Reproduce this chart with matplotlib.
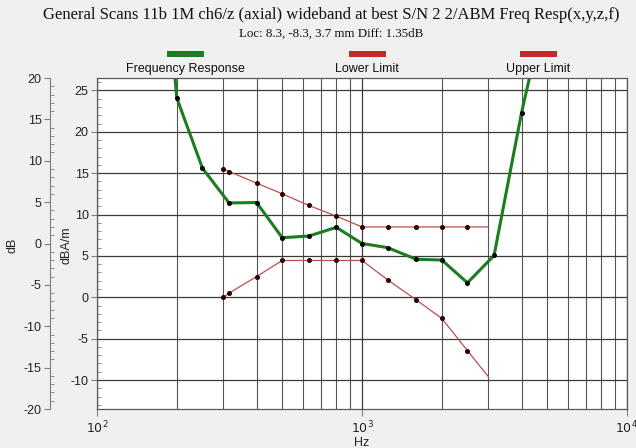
import matplotlib
matplotlib.use("Agg")
import matplotlib.pyplot as plt
from matplotlib.ticker import MultipleLocator, FixedLocator, NullFormatter

# ---- data ----
fr_hz = [160, 200, 250, 315, 400, 500, 630, 800, 1000, 1250, 1600, 2000, 2500, 3150, 4000, 5000]
fr_db = [60, 24.1, 15.6, 11.4, 11.45, 7.2, 7.4, 8.45, 6.5, 6.0, 4.6, 4.5, 1.75, 5.05, 22.3, 36]

lim_hz = [300, 315, 400, 500, 630, 800, 1000, 1250, 1600, 2000, 2500, 3000]
lower_db = [0.0, 0.5, 2.5, 4.45, 4.45, 4.45, 4.45, 2.1, -0.3, -2.55, -6.45, -9.6]
upper_db = [15.5, 15.2, 13.8, 12.5, 11.1, 9.8, 8.5, 8.5, 8.5, 8.5, 8.5, 8.5]

legend_labels = ["Frequency Response", "Lower Limit", "Upper Limit"]
title = "General Scans 11b 1M ch6/z (axial) wideband at best S/N 2 2/ABM Freq Resp(x,y,z,f)"
subtitle = "Loc: 8.3, -8.3, 3.7 mm Diff: 1.35dB"

W, H = 636, 448
plt.rcParams['font.family'] = ['Liberation Sans', 'DejaVu Sans']
plt.rcParams['axes.unicode_minus'] = False
fig = plt.figure(figsize=(W / 100, H / 100), dpi=100, facecolor="#f0f0f0")

def fx(px):
    return px / W

def fy(py):
    return 1 - py / H

left, right, top, bottom = 97, 627, 78, 409
ax = fig.add_axes([fx(left), fy(bottom), (right - left) / W, (bottom - top) / H])
ax.set_facecolor("white")
ax.set_xscale("log")
ax.set_xlim(100, 10000)
ax.set_ylim(-13.5, 26.5)

green = "#1b7d1f"
red = "#b9504f"

ax.plot(fr_hz, fr_db, color=green, lw=2.2, marker="o", ms=2.6, mfc="black", mec="black", zorder=5)
ax.plot(lim_hz, lower_db, color=red, lw=0.9, marker="o", ms=2.6, mfc="#300000", mec="#300000",
        markevery=slice(0, len(lim_hz) - 1), zorder=4)
ax.plot(lim_hz, upper_db, color=red, lw=0.9, marker="o", ms=2.6, mfc="#300000", mec="#300000",
        markevery=slice(0, len(lim_hz) - 1), zorder=4)

# grid
ax.yaxis.set_minor_locator(MultipleLocator(1))
ax.set_yticks([-10, -5, 0, 5, 10, 15, 20, 25])
ax.xaxis.set_major_locator(FixedLocator([100, 1000, 10000]))
ax.xaxis.set_minor_locator(FixedLocator([m * d for d in (100, 1000) for m in range(2, 10)]))
ax.xaxis.set_minor_formatter(NullFormatter())
ax.set_xticklabels(["$10^2$", "$10^3$", "$10^4$"])
ax.grid(True, which="major", axis="both", color="#3a3a3a", lw=0.9)
ax.grid(True, which="minor", axis="x", color="#555555", lw=0.8)
ax.set_axisbelow(True)

for s in ax.spines.values():
    s.set_color("#5a5a5a")
    s.set_linewidth(0.9)

ax.tick_params(axis="y", which="major", direction="out", length=4, color="#808080",
               labelsize=9, pad=2, labelcolor="#222222")
ax.tick_params(axis="y", which="minor", direction="in", length=3, color="#808080")
ax.tick_params(axis="x", which="major", direction="out", length=5, color="#808080",
               labelsize=9, pad=3, labelcolor="#222222")
ax.tick_params(axis="x", which="minor", length=0)
ax.set_xlabel("Hz", fontsize=9, labelpad=0, color="#222222")

# secondary dB axis on far left
ax2 = fig.add_axes([fx(50), fy(bottom), 0.0001, (bottom - top) / H])
ax2.set_ylim(-20, 20)
ax2.patch.set_visible(False)
for k in ("top", "right", "bottom"):
    ax2.spines[k].set_visible(False)
ax2.spines["left"].set_color("#808080")
ax2.xaxis.set_visible(False)
ax2.yaxis.set_major_locator(MultipleLocator(5))
ax2.yaxis.set_minor_locator(MultipleLocator(1))
ax2.tick_params(axis="y", which="major", direction="out", length=4, color="#808080",
                labelsize=9, pad=2, labelcolor="#222222")
ax2.tick_params(axis="y", which="minor", direction="in", length=3, color="#808080")

fig.text(fx(13), fy(245), "dB", rotation=90, ha="center", va="center", fontsize=9, color="#222222")
fig.text(fx(66), fy(245), "dBA/m", rotation=90, ha="center", va="center", fontsize=9, color="#222222")

# titles
fig.text(fx(331), fy(15), title, ha="center", va="center", fontsize=12,
         family=["Liberation Serif", "DejaVu Serif"], color="#111111")
fig.text(fx(331), fy(34), subtitle, ha="center", va="center", fontsize=9.3,
         family=["Liberation Serif", "DejaVu Serif"], color="#111111")

# legend
leg_x = [185, 367, 538]
leg_c = [green, "#c42a2a", "#c42a2a"]
for x, lab, c in zip(leg_x, legend_labels, leg_c):
    fig.patches.append(plt.Rectangle((fx(x - 18), fy(57)), 37 / W, 6 / H, transform=fig.transFigure,
                                     facecolor=c, edgecolor="none"))
    fig.text(fx(x), fy(69), lab, ha="center", va="center", fontsize=9, color="#111111")

fig.savefig("out.png", dpi=100, facecolor=fig.get_facecolor())
